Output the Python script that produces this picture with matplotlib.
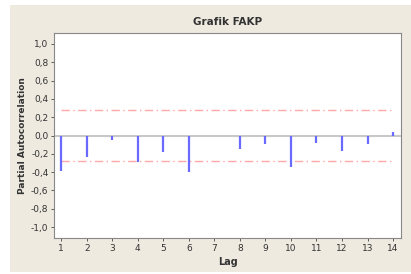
import matplotlib
matplotlib.use("Agg")
import matplotlib.pyplot as plt
from matplotlib.patches import Rectangle

lags = list(range(1, 15))
pacf = [-0.39, -0.23, -0.05, -0.29, -0.18, -0.40, 0.0, -0.145, -0.095, -0.34, -0.08, -0.165, -0.095, 0.04]
conf_limit = 0.28
yticks = [1.0, 0.8, 0.6, 0.4, 0.2, 0.0, -0.2, -0.4, -0.6, -0.8, -1.0]
ytick_labels = ["1,0", "0,8", "0,6", "0,4", "0,2", "0,0", "-0,2", "-0,4", "-0,6", "-0,8", "-1,0"]

W, H = 411, 274
fig = plt.figure(figsize=(W / 100, H / 100), dpi=100, facecolor="white")
fig.patches.append(Rectangle((10 / W, 2 / H), (W - 10) / W, (H - 7) / H,
                             transform=fig.transFigure, facecolor="#eeeae0",
                             edgecolor="none", zorder=-5))

ax = fig.add_axes([54 / W, 1 - 238 / H, (401 - 54) / W, (238 - 33) / H])
ax.set_zorder(2)
ax.set_facecolor("white")
ax.set_xlim(0.72, 14.31)
ax.set_ylim(-1.12, 1.12)

ax.axhline(0, color="#c8c8c8", lw=1.5, zorder=1)
for y in (conf_limit, -conf_limit):
    ax.hlines(y, lags[0], lags[-1], color="#ffa8a8", lw=1.0, ls=(0, (6, 2.5, 1, 2.5)), zorder=2)
ax.vlines(lags, 0, pacf, color="#6a6aff", lw=1.6, zorder=3)

ax.set_yticks(yticks)
ax.set_yticklabels(ytick_labels)
ax.set_xticks(lags)
ax.set_xticklabels([str(l) for l in lags])
ax.tick_params(axis="both", labelsize=6.5, colors="#444444", length=2, width=0.6,
               labelcolor="#333333", pad=2)
for s in ax.spines.values():
    s.set_color("#888888")
    s.set_linewidth(0.8)

ax.set_title("Grafik FAKP", fontsize=7.5, fontweight="bold", color="#333333", pad=6)
ax.set_xlabel("Lag", fontsize=7, fontweight="bold", color="#333333", labelpad=3)
ax.set_ylabel("Partial Autocorrelation", fontsize=6.5, fontweight="bold", color="#333333", labelpad=3)

fig.savefig("out.png", dpi=100, facecolor="white")
